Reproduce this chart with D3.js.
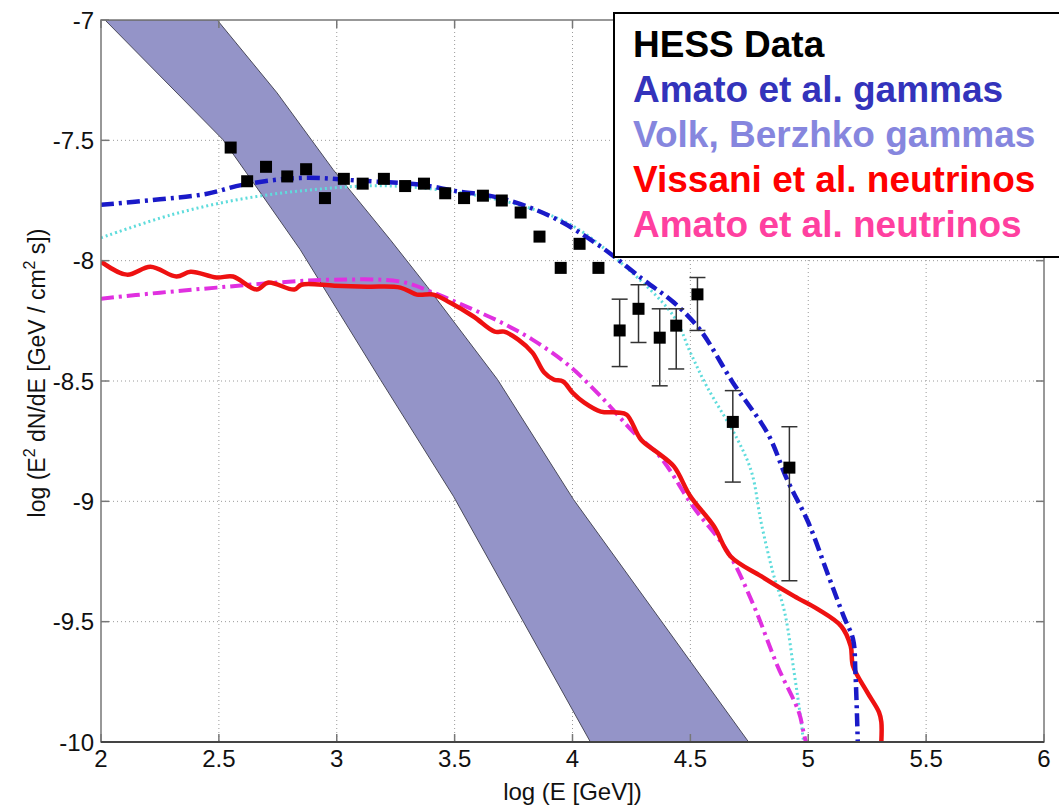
<!DOCTYPE html>
<html>
<head>
<meta charset="utf-8">
<script src="https://cdn.jsdelivr.net/npm/d3@7"></script>
<style>
  html, body { margin: 0; padding: 0; background: #fff; }
  svg { display: block; font-family: Arial, "Liberation Sans", sans-serif; }
</style>
</head>
<body>
<svg id="chart" width="1059" height="808"></svg>
<script>
// Axis ticks
const xTicks = [2, 2.5, 3, 3.5, 4, 4.5, 5, 5.5, 6];
const xTickLabels = ["2", "2.5", "3", "3.5", "4", "4.5", "5", "5.5", "6"];
const yTicks = [-10, -9.5, -9, -8.5, -8, -7.5, -7];
const yTickLabels = ["-10", "-9.5", "-9", "-8.5", "-8", "-7.5", "-7"];

// HESS measured points: log E, log flux, error-bar ends (null = no bar)
const hessE    = [2.55, 2.62, 2.70, 2.79, 2.87, 2.95, 3.03, 3.11, 3.20, 3.29, 3.37, 3.46, 3.54, 3.62, 3.70, 3.78, 3.86, 3.95, 4.03, 4.11, 4.20, 4.28, 4.37, 4.44, 4.53, 4.68, 4.92];
const hessFlux = [-7.53, -7.67, -7.61, -7.65, -7.62, -7.74, -7.66, -7.68, -7.66, -7.69, -7.68, -7.72, -7.74, -7.73, -7.75, -7.80, -7.90, -8.03, -7.93, -8.03, -8.29, -8.20, -8.32, -8.27, -8.14, -8.67, -8.86];
const hessErrHigh = [null, null, null, null, null, null, null, null, null, null, null, null, null, null, null, null, null, null, null, null, -8.16, -8.10, -8.20, -8.20, -8.07, -8.54, -8.69];
const hessErrLow  = [null, null, null, null, null, null, null, null, null, null, null, null, null, null, null, null, null, null, null, null, -8.44, -8.34, -8.52, -8.45, -8.29, -8.92, -9.33];

// Amato et al. gammas
const amatoGammaE    = [2.0, 2.25, 2.45, 2.60, 2.85, 3.10, 3.36, 3.50, 3.69, 3.91, 4.12, 4.30, 4.43, 4.54, 4.68, 4.83, 4.91, 5.00, 5.08, 5.15, 5.19, 5.20, 5.21];
const amatoGammaFlux = [-7.768, -7.745, -7.722, -7.685, -7.656, -7.668, -7.685, -7.710, -7.739, -7.817, -7.942, -8.079, -8.174, -8.286, -8.506, -8.722, -8.909, -9.087, -9.295, -9.477, -9.573, -9.710, -10.0];

// Volk, Berzhko gammas
const volkE    = [2.0, 2.30, 2.60, 2.90, 3.20, 3.50, 3.80, 4.00, 4.20, 4.43, 4.50, 4.57, 4.70, 4.76, 4.80, 4.85, 4.90, 4.94, 4.97, 4.98];
const volkFlux = [-7.905, -7.809, -7.743, -7.705, -7.689, -7.714, -7.776, -7.855, -8.004, -8.232, -8.382, -8.523, -8.743, -8.880, -9.087, -9.295, -9.461, -9.710, -9.917, -10.0];

// Vissani et al. neutrinos
const vissaniE    = [2.0, 2.11, 2.21, 2.32, 2.38, 2.49, 2.56, 2.66, 2.71, 2.82, 2.85, 2.99, 3.13, 3.27, 3.34, 3.41, 3.48, 3.58, 3.67, 3.71, 3.77, 3.83, 3.88, 3.92, 3.96, 4.00, 4.05, 4.12, 4.19, 4.23, 4.29, 4.36, 4.43, 4.50, 4.60, 4.67, 4.80, 4.94, 5.04, 5.14, 5.18, 5.19, 5.25, 5.30, 5.31, 5.31];
const vissaniFlux = [-8.004, -8.058, -8.025, -8.066, -8.046, -8.070, -8.066, -8.120, -8.091, -8.120, -8.100, -8.104, -8.108, -8.112, -8.141, -8.141, -8.174, -8.232, -8.295, -8.295, -8.328, -8.382, -8.465, -8.494, -8.502, -8.548, -8.590, -8.627, -8.631, -8.640, -8.743, -8.797, -8.855, -8.979, -9.104, -9.228, -9.311, -9.394, -9.448, -9.519, -9.602, -9.685, -9.793, -9.876, -9.917, -10.0];

// Amato et al. neutrinos
const amatoNuE    = [2.0, 2.25, 2.49, 2.76, 2.99, 3.27, 3.41, 3.55, 3.69, 3.83, 3.98, 4.12, 4.26, 4.37, 4.51, 4.66, 4.77, 4.87, 4.96, 4.98, 4.99];
const amatoNuFlux = [-8.158, -8.133, -8.112, -8.090, -8.079, -8.087, -8.133, -8.191, -8.253, -8.328, -8.432, -8.564, -8.714, -8.813, -9.020, -9.212, -9.436, -9.685, -9.876, -9.959, -10.0];

// Shaded band: its two bounding edges
const bandLeftE     = [2.017, 2.518, 2.688, 2.845, 3.185, 3.495, 4.076];
const bandLeftFlux  = [-7.0, -7.498, -7.734, -7.954, -8.494, -8.979, -10.0];
const bandRightE    = [2.493, 2.747, 2.985, 3.227, 3.384, 3.682, 4.004, 4.747];
const bandRightFlux = [-7.0, -7.303, -7.622, -7.913, -8.108, -8.494, -8.992, -10.0];

// Legend entries
const legendLabels = ["HESS Data", "Amato et al. gammas", "Volk, Berzhko gammas", "Vissani et al. neutrinos", "Amato et al. neutrinos"];
const legendColors = ["#000000", "#3333bb", "#8686de", "#ff0000", "#ff40a0"];

const svg = d3.select("#chart");
const plot = { left: 101, right: 1044, top: 20, bottom: 742 };

const x = d3.scaleLinear().domain([2, 6]).range([plot.left, plot.right]);
const y = d3.scaleLinear().domain([-10, -7]).range([plot.bottom, plot.top]);

svg.append("defs").append("clipPath").attr("id", "plotClip")
  .append("rect")
  .attr("x", plot.left).attr("y", plot.top)
  .attr("width", plot.right - plot.left).attr("height", plot.bottom - plot.top);

// Dotted grid
const grid = svg.append("g").attr("stroke", "#9a9a9a").attr("stroke-width", 1).attr("stroke-dasharray", "1,3");
grid.selectAll(".gx").data(xTicks.slice(1, -1)).join("line")
  .attr("x1", d => x(d)).attr("x2", d => x(d))
  .attr("y1", plot.top).attr("y2", plot.bottom);
grid.selectAll(".gy").data(yTicks.slice(1, -1)).join("line")
  .attr("x1", plot.left).attr("x2", plot.right)
  .attr("y1", d => y(d)).attr("y2", d => y(d));

const zip = (a, b) => a.map((v, i) => [v, b[i]]);
const body = svg.append("g").attr("clip-path", "url(#plotClip)");

// Band between the two edges
const bandPts = zip(bandRightE, bandRightFlux).concat(zip(bandLeftE, bandLeftFlux).reverse());
body.append("path")
  .attr("d", d3.line().x(d => x(d[0])).y(d => y(d[1])).curve(d3.curveLinearClosed)(bandPts))
  .attr("fill", "#9494c8")
  .attr("stroke", "#4a4a5a")
  .attr("stroke-width", 1);

const curve = d3.line().x(d => x(d[0])).y(d => y(d[1])).curve(d3.curveCatmullRom.alpha(0.5));

// Model curves
body.append("path").attr("d", curve(zip(volkE, volkFlux)))
  .attr("fill", "none").attr("stroke", "#5fdcdc").attr("stroke-width", 3)
  .attr("stroke-dasharray", "2,3");
body.append("path").attr("d", curve(zip(amatoNuE, amatoNuFlux)))
  .attr("fill", "none").attr("stroke", "#e030e0").attr("stroke-width", 4)
  .attr("stroke-dasharray", "13,5,3,5");
body.append("path").attr("d", curve(zip(vissaniE, vissaniFlux)))
  .attr("fill", "none").attr("stroke", "#ee1111").attr("stroke-width", 4.5)
  .attr("stroke-linejoin", "round");
body.append("path").attr("d", curve(zip(amatoGammaE, amatoGammaFlux)))
  .attr("fill", "none").attr("stroke", "#1a1ac8").attr("stroke-width", 4.5)
  .attr("stroke-dasharray", "13,5,3,5");

// HESS error bars and points
const hess = hessE.map((e, i) => ({ e, f: hessFlux[i], hi: hessErrHigh[i], lo: hessErrLow[i] }));
const bars = body.append("g").attr("stroke", "#333").attr("stroke-width", 1.5);
hess.filter(d => d.hi !== null).forEach(d => {
  bars.append("line").attr("x1", x(d.e)).attr("x2", x(d.e)).attr("y1", y(d.hi)).attr("y2", y(d.lo));
  bars.append("line").attr("x1", x(d.e) - 8).attr("x2", x(d.e) + 8).attr("y1", y(d.hi)).attr("y2", y(d.hi));
  bars.append("line").attr("x1", x(d.e) - 8).attr("x2", x(d.e) + 8).attr("y1", y(d.lo)).attr("y2", y(d.lo));
});
body.append("g").selectAll("rect").data(hess).join("rect")
  .attr("x", d => x(d.e) - 6).attr("y", d => y(d.f) - 6)
  .attr("width", 12).attr("height", 12)
  .attr("fill", "#000");

// Frame with inward ticks
const frame = svg.append("g").attr("stroke", "#777").attr("stroke-width", 1.5).attr("fill", "none");
frame.append("rect").attr("x", plot.left).attr("y", plot.top)
  .attr("width", plot.right - plot.left).attr("height", plot.bottom - plot.top);
svg.append("line").attr("x1", plot.left).attr("x2", plot.right)
  .attr("y1", plot.bottom).attr("y2", plot.bottom).attr("stroke", "#444").attr("stroke-width", 2);
xTicks.forEach(t => {
  frame.append("line").attr("x1", x(t)).attr("x2", x(t)).attr("y1", plot.bottom).attr("y2", plot.bottom - 8);
  frame.append("line").attr("x1", x(t)).attr("x2", x(t)).attr("y1", plot.top).attr("y2", plot.top + 8);
});
yTicks.forEach(t => {
  frame.append("line").attr("x1", plot.left).attr("x2", plot.left + 8).attr("y1", y(t)).attr("y2", y(t));
  frame.append("line").attr("x1", plot.right).attr("x2", plot.right - 8).attr("y1", y(t)).attr("y2", y(t));
});

// Tick labels
svg.append("g").selectAll("text").data(xTicks).join("text")
  .attr("x", d => x(d)).attr("y", 767)
  .attr("text-anchor", "middle").attr("font-size", 24).attr("fill", "#111")
  .text((d, i) => xTickLabels[i]);
svg.append("g").selectAll("text").data(yTicks).join("text")
  .attr("x", plot.left - 7).attr("y", d => y(d) + 8.5)
  .attr("text-anchor", "end").attr("font-size", 24).attr("fill", "#111")
  .text((d, i) => yTickLabels[i]);

// Axis titles
svg.append("text").attr("x", (plot.left + plot.right) / 2).attr("y", 800)
  .attr("text-anchor", "middle").attr("font-size", 24).attr("fill", "#111")
  .text("log (E [GeV])");

const yTitle = svg.append("text")
  .attr("transform", "translate(45,373) rotate(-90)")
  .attr("text-anchor", "middle").attr("font-size", 23).attr("fill", "#111");
yTitle.append("tspan").text("log (E");
yTitle.append("tspan").attr("font-size", 16).attr("dy", -10).text("2");
yTitle.append("tspan").attr("dy", 10).text(" dN/dE [GeV / cm");
yTitle.append("tspan").attr("font-size", 16).attr("dy", -10).text("2");
yTitle.append("tspan").attr("dy", 10).text(" s])");

// Legend box
const legend = svg.append("g");
legend.append("rect").attr("x", 614).attr("y", 13).attr("width", 460).attr("height", 244)
  .attr("fill", "#fff").attr("stroke", "#000").attr("stroke-width", 2);
legend.selectAll("text").data(legendLabels).join("text")
  .attr("x", 633).attr("y", (d, i) => 57 + i * 45)
  .attr("font-size", 37).attr("font-weight", "bold")
  .attr("fill", (d, i) => legendColors[i])
  .text(d => d);
</script>
</body>
</html>
